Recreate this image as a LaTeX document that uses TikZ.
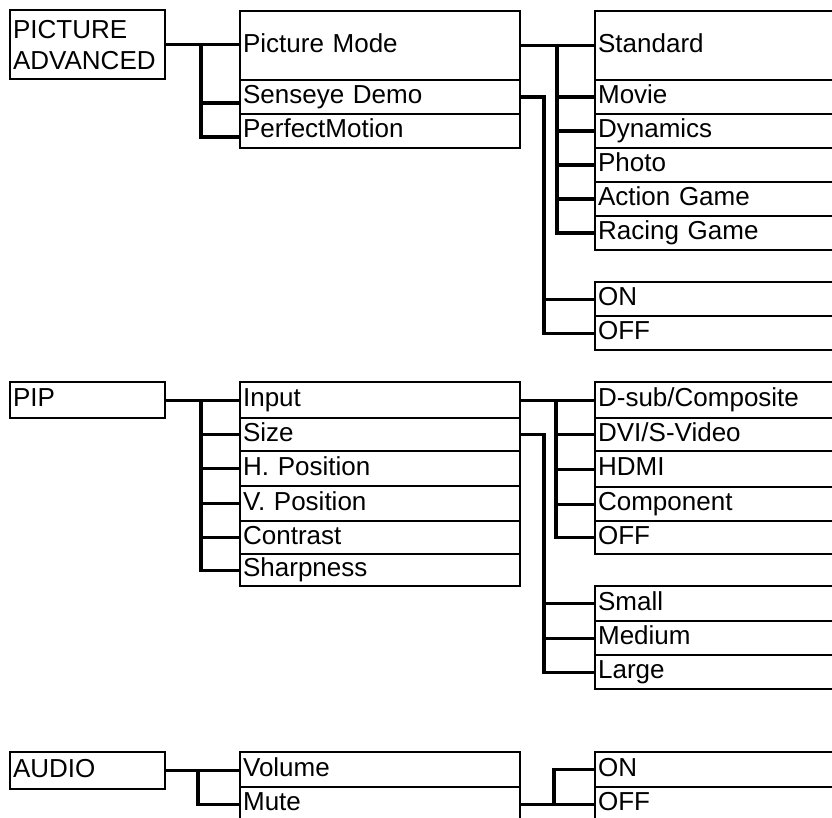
\documentclass[tikz,border=0pt]{standalone}
\usepackage{fontspec}
\setmainfont{Liberation Sans}
\usetikzlibrary{calc}
\begin{document}
\begin{tikzpicture}[x=1pt,y=-1pt,
  basebox/.style={draw, line width=2.2pt, anchor=north west, inner xsep=3pt, inner ysep=0pt,
     align=left, font=\fontsize{26}{31}\selectfont},
  box/.style={basebox, text height=18pt, text depth=5pt},
  leftbox/.style={box, text width=149pt},
  midbox/.style={box, text width=274pt},
  rightbox/.style={box, text width=254pt},
  conn/.style={line width=3.2pt}]
\useasboundingbox (0,0) rectangle (832,818);
\clip (0,0) rectangle (832,818);
% trunk positions
\coordinate (tA) at (201,0);
\coordinate (tB) at (557,0);
\coordinate (tC) at (544,0);
\coordinate (tD) at (556,0);
\coordinate (tF) at (198,0);
\coordinate (tG) at (554,0);
% ---------- PICTURE ADVANCED ----------
\node[basebox, text width=149pt, minimum height=69pt] (pa) at (9,9) {PICTURE\\ADVANCED};
\node[midbox, minimum height=69pt] (pm) at (239,10) {Picture Mode};
\node[midbox, minimum height=34pt] (sd) at (239,79) {Senseye Demo};
\node[midbox, minimum height=34pt] (pmo) at (239,113) {PerfectMotion};
\node[rightbox, minimum height=69pt] (std) at (594,10) {Standard};
\node[rightbox, minimum height=34pt] (movie) at (594,79) {Movie};
\node[rightbox, minimum height=34pt] (dyn) at (594,113) {Dynamics};
\node[rightbox, minimum height=34pt] (photo) at (594,147) {Photo};
\node[rightbox, minimum height=34pt] (action) at (594,181) {Action Game};
\node[rightbox, minimum height=34pt] (racing) at (594,215) {Racing Game};
\node[rightbox, minimum height=34pt] (on1) at (594,281) {ON};
\node[rightbox, minimum height=34pt] (off1) at (594,315) {OFF};
\draw[conn] (pa.east) -- (pa.east -| pm.west);
\draw[conn] (tA |- pa.east) -- ($(tA |- pmo.west)+(0,6)$) -- ($(pmo.west)+(0,6)$);
\draw[conn] ($(tA |- sd.west)+(0,6)$) -- ($(sd.west)+(0,6)$);
\draw[conn] (pm.east) -- (std.west);
\draw[conn] (tB |- std.west) -- (tB |- racing.west) -- (racing.west);
\foreach \n in {movie,dyn,photo,action} \draw[conn] (tB |- \n.west) -- (\n.west);
\draw[conn] (sd.east) -- (tC |- sd.east) -- (tC |- off1.west) -- (off1.west);
\draw[conn] (tC |- on1.west) -- (on1.west);
% ---------- PIP ----------
\node[leftbox, minimum height=36pt] (pip) at (9,381) {PIP};
\node[midbox, minimum height=36pt] (input) at (239,381) {Input};
\node[midbox, minimum height=33pt] (size) at (239,417) {Size};
\node[midbox, minimum height=35pt] (hpos) at (239,450) {H. Position};
\node[midbox, minimum height=35pt] (vpos) at (239,485) {V. Position};
\node[midbox, minimum height=33pt] (contrast) at (239,520) {Contrast};
\node[midbox, minimum height=32pt] (sharp) at (239,553) {Sharpness};
\node[rightbox, minimum height=36pt] (dsub) at (594,381) {D-sub/Composite};
\node[rightbox, minimum height=33pt] (dvi) at (594,417) {DVI/S-Video};
\node[rightbox, minimum height=36pt] (hdmi) at (594,450) {HDMI};
\node[rightbox, minimum height=34pt] (comp) at (594,486) {Component};
\node[rightbox, minimum height=33pt] (off2) at (594,520) {OFF};
\node[rightbox, minimum height=35pt] (small) at (594,585) {Small};
\node[rightbox, minimum height=34pt] (medium) at (594,620) {Medium};
\node[rightbox, minimum height=34pt] (large) at (594,654) {Large};
\draw[conn] (pip.east) -- (pip.east -| input.west);
\draw[conn] (tA |- pip.east) -- (tA |- sharp.west) -- (sharp.west);
\foreach \n in {size,hpos,vpos,contrast} \draw[conn] (tA |- \n.west) -- (\n.west);
\draw[conn] (input.east) -- (input.east -| dsub.west);
\draw[conn] (tD |- input.east) -- (tD |- off2.west) -- (off2.west);
\foreach \n in {dvi,hdmi,comp} \draw[conn] (tD |- \n.west) -- (\n.west);
\draw[conn] (size.east) -- (tC |- size.east) -- (tC |- large.west) -- (large.west);
\foreach \n in {small,medium} \draw[conn] (tC |- \n.west) -- (\n.west);
% ---------- AUDIO ----------
\node[leftbox, minimum height=37pt] (audio) at (9,751) {AUDIO};
\node[midbox, minimum height=35pt] (volume) at (239,751) {Volume};
\node[midbox, minimum height=34pt] (mute) at (239,786) {Mute};
\node[rightbox, minimum height=35pt] (on3) at (594,751) {ON};
\node[rightbox, minimum height=34pt] (off3) at (594,786) {OFF};
\draw[conn] (audio.east) -- (audio.east -| volume.west);
\draw[conn] (tF |- audio.east) -- (tF |- mute.west) -- (mute.west);
\draw[conn] (mute.east) -- (mute.east -| off3.west);
\draw[conn] (tG |- mute.east) -- (tG |- on3.west) -- (on3.west);
\end{tikzpicture}
\end{document}
